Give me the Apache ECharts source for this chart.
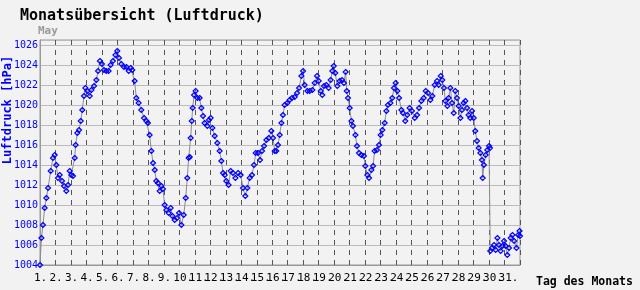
<!DOCTYPE html>
<html>
<head>
<meta charset="utf-8">
<script src="https://cdn.jsdelivr.net/npm/echarts@6/dist/echarts.min.js"></script>
<style>
html,body{margin:0;padding:0;background:#f2f2f2;}
#c{width:640px;height:290px;}
</style>
</head>
<body>
<div id="c"></div>
<script>
// Day offset since 1 May 00:00 (fractional days)
const dayPos = [
0.00,0.09,0.19,0.30,0.41,0.52,0.69,0.84,0.95,1.05,1.16,1.27,1.42,1.55,1.70,1.81,1.92,2.02,2.13,2.24,
2.30,2.41,2.52,2.63,2.73,2.84,2.93,3.06,3.21,3.32,3.49,3.64,3.75,3.87,4.00,4.13,4.28,4.43,4.56,4.71,
4.87,4.99,5.10,5.25,5.42,5.58,5.73,5.86,5.96,6.11,6.22,6.37,6.54,6.72,6.87,6.97,7.08,7.19,7.30,7.41,
7.51,7.62,7.73,7.84,7.94,8.05,8.16,8.31,8.44,8.55,8.70,8.85,8.98,9.13,9.28,9.41,9.51,9.60,9.67,9.73,
9.80,9.86,9.95,10.05,10.16,10.31,10.42,10.53,10.63,10.81,10.91,11.02,11.13,11.28,11.45,11.60,11.71,11.82,11.93,12.03,
12.18,12.31,12.46,12.62,12.79,12.96,13.11,13.26,13.39,13.54,13.69,13.82,13.93,14.08,14.21,14.34,14.47,14.62,14.77,14.94,
15.05,15.16,15.26,15.37,15.48,15.59,15.69,15.80,15.97,16.12,16.27,16.45,16.60,16.73,16.88,16.99,17.09,17.27,17.42,17.59,
17.74,17.89,18.00,18.13,18.23,18.34,18.49,18.64,18.77,18.88,18.97,19.07,19.20,19.35,19.50,19.63,19.74,19.81,19.89,20.00,
20.11,20.21,20.37,20.47,20.60,20.75,20.92,21.01,21.14,21.25,21.40,21.51,21.61,21.76,21.89,22.00,22.11,22.26,22.37,22.47,
22.63,22.75,22.86,22.97,23.08,23.19,23.34,23.44,23.59,23.72,23.87,24.02,24.20,24.35,24.48,24.63,24.78,24.91,25.06,25.21,
25.34,25.49,25.64,25.75,25.88,25.98,26.09,26.18,26.31,26.39,26.50,26.61,26.72,26.82,26.93,27.04,27.15,27.25,27.36,27.47,
27.58,27.68,27.79,27.90,28.01,28.11,28.22,28.33,28.44,28.54,28.59,28.67,28.78,28.89,29.00,29.06,29.08,29.19,29.32,29.43,
29.54,29.64,29.75,29.86,29.97,30.07,30.18,30.29,30.40,30.51,30.62,30.77,30.88,30.97,31.00
];
// Air pressure in hPa
const pressure = [
1004.0,1006.7,1008.0,1009.7,1010.7,1011.7,1013.4,1014.7,1015.0,1014.0,1012.7,1013.0,1012.4,1011.9,1011.4,1012.0,1013.4,1013.0,1012.9,1014.7,
1016.0,1017.2,1017.5,1018.4,1019.5,1020.9,1021.7,1021.4,1020.9,1021.5,1021.9,1022.5,1023.4,1024.4,1024.1,1023.5,1023.4,1023.4,1024.0,1024.4,
1025.0,1025.4,1024.7,1024.1,1023.8,1023.8,1023.4,1023.7,1023.5,1022.4,1020.7,1020.2,1019.5,1018.7,1018.4,1018.2,1017.0,1015.4,1014.2,1013.5,
1012.4,1012.2,1011.4,1011.9,1011.6,1010.0,1009.5,1009.2,1009.7,1008.9,1008.5,1008.7,1009.2,1008.0,1009.0,1010.7,1012.7,1014.7,1014.8,1016.7,
1018.4,1019.7,1021.0,1021.4,1020.7,1020.7,1019.7,1018.9,1018.2,1017.9,1018.5,1018.7,1017.7,1016.9,1016.2,1015.4,1014.4,1013.2,1013.0,1012.4,
1012.0,1013.4,1013.2,1012.7,1013.2,1013.0,1011.7,1010.9,1011.7,1012.7,1013.0,1014.0,1015.2,1015.2,1014.5,1015.4,1015.9,1016.5,1016.7,1017.4,
1016.7,1015.4,1015.4,1016.0,1017.0,1018.2,1019.0,1020.0,1020.2,1020.5,1020.7,1020.8,1021.2,1021.7,1022.9,1023.4,1022.0,1021.4,1021.4,1021.5,
1022.2,1022.9,1022.4,1021.4,1021.0,1021.9,1022.0,1021.7,1022.5,1023.4,1023.9,1023.2,1021.9,1022.4,1022.5,1022.2,1023.3,1021.4,1020.7,1019.7,
1018.4,1017.9,1017.0,1015.9,1015.2,1015.0,1014.9,1013.9,1013.0,1012.7,1013.5,1013.9,1015.4,1015.5,1016.0,1017.0,1017.5,1018.2,1019.4,1020.0,
1020.2,1020.7,1021.7,1022.2,1021.4,1020.7,1019.5,1019.2,1018.4,1019.0,1019.7,1019.4,1018.7,1019.0,1019.7,1020.4,1020.7,1021.4,1021.2,1020.5,
1020.9,1022.0,1022.4,1022.0,1022.9,1022.5,1021.7,1020.4,1019.9,1020.7,1021.7,1020.2,1019.2,1021.4,1020.7,1019.9,1018.7,1019.5,1020.2,1020.4,
1019.7,1019.0,1018.7,1019.4,1018.7,1017.4,1016.4,1015.7,1015.2,1014.5,1012.7,1014.0,1015.0,1015.5,1015.9,1015.7,1005.4,1005.7,1006.0,1005.5,
1006.7,1006.0,1005.4,1005.9,1006.4,1005.9,1005.0,1005.7,1006.7,1007.0,1006.4,1005.7,1007.0,1007.4,1006.9
];
const dayLabels = ["1.","2.","3.","4.","5.","6.","7.","8.","9.","10.","11.","12.","13.","14.","15.","16.",
"17.","18.","19.","20.","21.","22.","23.","24.","25.","26.","27.","28.","29.","30.","31."];
const titleText = "Monatsübersicht (Luftdruck)";
const monthText = "May";
const yName = "Luftdruck [hPa]";
const xName = "Tag des Monats";

const MONO = '"DejaVu Sans Mono", "Liberation Mono", monospace';
const chart = echarts.init(document.getElementById('c'), null, {renderer: 'canvas'});
const seriesData = dayPos.map((d, i) => [d, pressure[i]]);

chart.setOption({
  backgroundColor: '#f2f2f2',
  animation: false,
  grid: {left: 40, right: 120, top: 40, bottom: 25, show: true, borderColor: '#999', borderWidth: 1, backgroundColor: '#f2f2f2'},
  xAxis: {
    type: 'value', min: 0, max: 31, interval: 1,
    axisLine: {show: true, lineStyle: {color: '#999', width: 1}},
    axisTick: {show: false},
    splitLine: {show: true, lineStyle: {color: '#555', type: [5, 5], width: 1}},
    axisLabel: {
      color: '#000', fontFamily: MONO, fontSize: 11, margin: 8, align: 'left',
      padding: [0, 0, 0, -6],
      formatter: v => (v < dayLabels.length ? dayLabels[v] : '')
    }
  },
  yAxis: {
    type: 'value', min: 1004, max: 1026.5, interval: 2,
    axisLine: {show: true, lineStyle: {color: '#999', width: 1}},
    axisTick: {show: false},
    splitLine: {show: true, lineStyle: {color: '#bbb', width: 1}},
    axisLabel: {color: '#0000ff', fontFamily: MONO, fontSize: 10, margin: 2, showMaxLabel: false,
      formatter: v => String(v)}
  },
  series: [{
    type: 'line',
    data: seriesData,
    lineStyle: {color: '#8c8c8c', width: 1},
    symbol: 'diamond',
    symbolSize: 5,
    showAllSymbol: true,
    itemStyle: {color: 'rgba(0,0,0,0)', borderColor: '#0000ff', borderWidth: 1.2},
    emphasis: {disabled: true}
  }],
  graphic: [
    {type: 'text', left: 20, top: 9, style: {text: titleText, font: 'bold 15px ' + MONO, fill: '#000'}},
    {type: 'text', left: 38, top: 26, style: {text: monthText, font: 'bold 11px ' + MONO, fill: '#999'}},
    {type: 'text', x: 8, y: 110, rotation: Math.PI / 2,
      style: {text: yName, font: 'bold 12px ' + MONO, fill: '#0000ff', align: 'center', verticalAlign: 'middle'}},
    {type: 'text', left: 536, top: 276, style: {text: xName, font: 'bold 11.5px ' + MONO, fill: '#000'}}
  ]
});
</script>
</body>
</html>
